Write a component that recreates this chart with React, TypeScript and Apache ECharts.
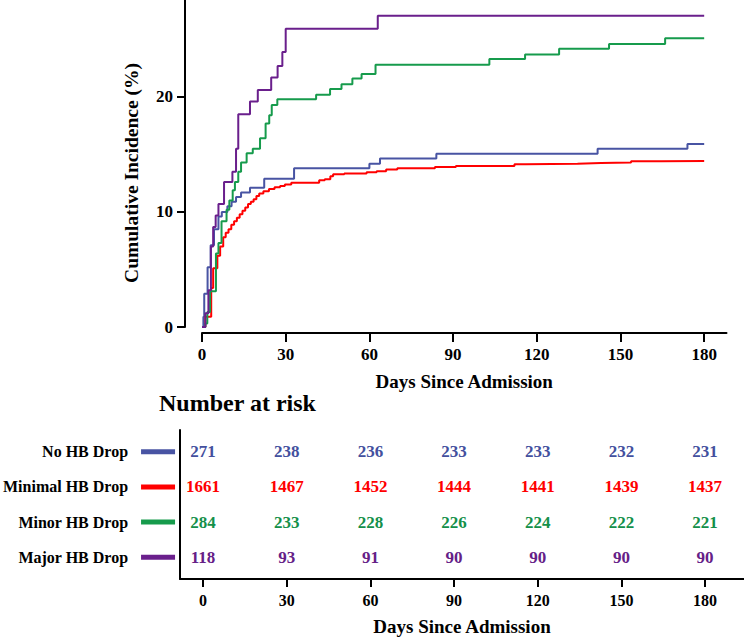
import React, { useEffect, useRef } from "react";
import * as echarts from "echarts";

const groupNames = ["No HB Drop", "Minimal HB Drop", "Minor HB Drop", "Major HB Drop"];
const lineColors = ["#4854a3", "#ff0000", "#169b4c", "#6a1f8c"];
const textColors = ["#43509e", "#ff0000", "#14904a", "#652087"];

const tickDays = [0, 30, 60, 90, 120, 150, 180];
const tickPct = [0, 10, 20];

const noDropDays = [0, 0.5, 0.8, 2, 3.1, 4.3, 5.9, 7.1, 9.1, 10.6, 12.2, 14, 17.2, 22.3, 33, 60, 63.8, 84, 141.8, 174, 180];
const noDropPct = [0, 0.9, 2.9, 5.2, 7.1, 8.5, 9.6, 10.0, 10.5, 10.9, 11.3, 11.7, 12.1, 12.9, 13.8, 14.2, 14.65, 15.07, 15.5, 15.9, 15.9];

const minimalDays = [0, 1.2, 3.3, 4, 5.5, 6.5, 7.6, 8.5, 9.5, 10.5, 11.5, 12.5, 13.5, 14.5, 15.5, 16.5, 17.5, 18.5, 19.5, 20.5, 22, 24, 26, 28, 29.7, 32, 42, 44, 46, 47, 51, 59, 62.6, 66, 70, 83.5, 91, 112, 116, 134.6, 143, 153.8, 164.6, 180];
const minimalPct = [0, 0.9, 3.4, 5.1, 6.2, 7.0, 7.8, 8.2, 8.5, 8.9, 9.2, 9.5, 9.8, 10.1, 10.4, 10.7, 10.9, 11.1, 11.4, 11.6, 11.8, 12.0, 12.15, 12.25, 12.4, 12.55, 12.75, 12.85, 13.1, 13.27, 13.35, 13.45, 13.55, 13.7, 13.8, 13.9, 14.0, 14.15, 14.2, 14.26, 14.3, 14.4, 14.43, 14.43];

const minorDays = [0, 1.2, 1.9, 2.9, 5, 5.9, 7, 8.8, 9.8, 11, 11.8, 13, 14, 16, 18.2, 20.8, 22.8, 24.1, 25, 27, 40.9, 45.9, 50, 53.9, 57.2, 62.2, 103, 115.8, 128, 145.9, 166, 180];
const minorPct = [0, 0.3, 1.3, 3.1, 6.4, 7.3, 9.2, 10.2, 11.0, 11.9, 12.6, 13.5, 14.3, 15.1, 15.5, 16.4, 17.7, 18.4, 19.3, 19.8, 20.2, 20.7, 21.1, 21.6, 22.0, 22.8, 23.3, 23.7, 24.2, 24.6, 25.1, 25.1];

const majorDays = [0, 1.2, 2.3, 3.2, 4, 4.9, 5.9, 7.9, 10.9, 12.2, 13, 17.2, 20, 24.8, 27.1, 28.8, 30, 63, 180];
const majorPct = [0, 1.2, 3.2, 7.0, 8.7, 9.7, 10.7, 12.6, 13.5, 15.5, 18.5, 19.6, 20.6, 21.7, 22.7, 23.9, 25.94, 27.07, 27.07];

const riskNoDrop = [271, 238, 236, 233, 233, 232, 231];
const riskMinimal = [1661, 1467, 1452, 1444, 1441, 1439, 1437];
const riskMinor = [284, 233, 228, 226, 224, 222, 221];
const riskMajor = [118, 93, 91, 90, 90, 90, 90];

const FONT = "'Liberation Serif', 'Times New Roman', serif";

export default function App() {
  const ref = useRef<HTMLDivElement>(null);
  useEffect(() => {
    if (!ref.current) return;
    const chart = echarts.init(ref.current, null, { renderer: "svg" });
    const curves = [
      [noDropDays, noDropPct],
      [minimalDays, minimalPct],
      [minorDays, minorPct],
      [majorDays, majorPct],
    ];
    const risks = [riskNoDrop, riskMinimal, riskMinor, riskMajor];

    const lineSeries = curves.map(([d, p], i) => ({
      name: groupNames[i],
      type: "line",
      step: "end",
      xAxisIndex: 0,
      yAxisIndex: 0,
      showSymbol: false,
      symbol: "none",
      lineStyle: { width: 2, color: lineColors[i] },
      itemStyle: { color: lineColors[i] },
      data: d.map((x, k) => [x, p[k]]),
      z: 2 + i,
    }));

    const riskSeries = risks.map((vals, i) => ({
      name: groupNames[i] + " risk",
      type: "scatter",
      xAxisIndex: 1,
      yAxisIndex: 1,
      symbolSize: 1,
      itemStyle: { color: "rgba(0,0,0,0)", opacity: 1 },
      label: {
        show: true,
        position: "inside",
        formatter: (p: any) => String(p.value[2]),
        color: textColors[i],
        opacity: 1,
        fontSize: 17,
        fontWeight: "bold",
        fontFamily: FONT,
      },
      data: vals.map((v, k) => [tickDays[k], i + 1, v]),
    }));

    const rich: any = {
      t: { fontSize: 16, fontWeight: "bold", fontFamily: FONT, color: "#000" },
      s: { width: 13 },
    };
    lineColors.forEach((c, i) => {
      rich["b" + i] = { backgroundColor: c, width: 34, height: 5 };
    });

    const axisText = { color: "#000", fontSize: 17, fontWeight: "bold", fontFamily: FONT };
    const axisLine = { show: true, onZero: false, lineStyle: { color: "#000", width: 2 } };

    chart.setOption({
      animation: false,
      grid: [
        { left: 202, top: 0, width: 524.5, height: 327 },
        { left: 180, right: 0, top: 430, bottom: 57 },
      ],
      title: {
        text: "Number at risk",
        left: 159,
        top: 391,
        padding: 0,
        textStyle: { fontSize: 24, fontWeight: "bold", fontFamily: FONT, color: "#000" },
      },
      xAxis: [
        {
          type: "value",
          gridIndex: 0,
          min: 0,
          max: 188,
          offset: 6,
          axisLine,
          axisTick: { show: true, customValues: tickDays, length: 9, lineStyle: { color: "#000", width: 2 } },
          axisLabel: { ...axisText, customValues: tickDays, margin: 13 },
          splitLine: { show: false },
          name: "Days Since Admission",
          nameLocation: "middle",
          nameGap: 39,
          nameTextStyle: { fontSize: 19, fontWeight: "bold", fontFamily: FONT, color: "#000" },
        },
        {
          type: "value",
          gridIndex: 1,
          min: -8.25,
          max: 193.97,
          axisLine,
          axisTick: { show: true, customValues: tickDays, length: 8, lineStyle: { color: "#000", width: 2 } },
          axisLabel: { ...axisText, fontSize: 16, customValues: tickDays, margin: 13 },
          splitLine: { show: false },
          name: "Days Since Admission",
          nameLocation: "middle",
          nameGap: 38,
          nameTextStyle: { fontSize: 19, fontWeight: "bold", fontFamily: FONT, color: "#000" },
        },
      ],
      yAxis: [
        {
          type: "value",
          gridIndex: 0,
          min: 0,
          max: 28.43,
          offset: 17,
          axisLine,
          axisTick: { show: true, customValues: tickPct, length: 8, lineStyle: { color: "#000", width: 2 } },
          axisLabel: { ...axisText, customValues: tickPct, margin: 12 },
          splitLine: { show: false },
        },
        {
          type: "value",
          gridIndex: 1,
          inverse: true,
          min: 0.377,
          max: 4.623,
          axisLine,
          axisTick: { show: false },
          splitLine: { show: false },
          axisLabel: {
            customValues: [1, 2, 3, 4],
            margin: 5,
            formatter: (v: number) => {
              const i = Math.round(v) - 1;
              return `{t|${groupNames[i]}}{s|}{b${i}|}`;
            },
            rich,
          },
        },
      ],
      graphic: [
        {
          type: "text",
          x: 131,
          y: 173,
          rotation: Math.PI / 2,
          style: {
            text: "Cumulative Incidence (%)",
            fontSize: 19.5,
            fontWeight: "bold",
            fontFamily: FONT,
            fill: "#000",
            textAlign: "center",
            textVerticalAlign: "middle",
          },
        },
      ],
      series: [...lineSeries, ...riskSeries],
    });
    return () => chart.dispose();
  }, []);
  return (
    <div
      ref={ref}
      style={{ position: "absolute", left: 0, top: 0, width: 744, height: 637 }}
    />
  );
}
